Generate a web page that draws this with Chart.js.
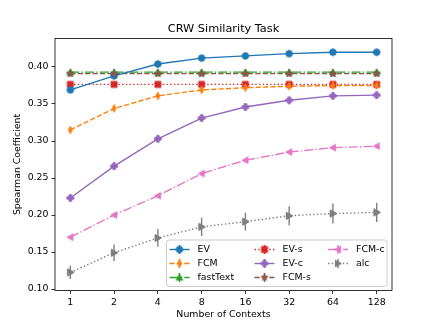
<!DOCTYPE html>
<html>
<head>
<meta charset="utf-8">
<script src="https://cdn.jsdelivr.net/npm/chart.js@4/dist/chart.umd.min.js"></script>
<style>
  html, body { margin: 0; padding: 0; background: #fff; }
  #wrap { width: 436px; height: 327px; }
</style>
</head>
<body>
<div id="wrap"><canvas id="chart" width="436" height="327"></canvas></div>
<script>
// x categories (evenly spaced) and y ticks
const contexts = ['1', '2', '4', '8', '16', '32', '64', '128'];
const yTicks = [0.10, 0.15, 0.20, 0.25, 0.30, 0.35, 0.40];

// series values
const evVals = [0.369, 0.388, 0.404, 0.412, 0.415, 0.418, 0.420, 0.420];
const fcmVals = [0.315, 0.344, 0.361, 0.369, 0.372, 0.374, 0.375, 0.375];
const fastTextVals = [0.393, 0.393, 0.393, 0.393, 0.393, 0.393, 0.393, 0.393];
const evSVals = [0.3765, 0.3765, 0.3765, 0.3765, 0.3765, 0.3765, 0.3765, 0.3765];
const evCVals = [0.223, 0.266, 0.303, 0.331, 0.346, 0.355, 0.361, 0.362];
const fcmSVals = [0.391, 0.391, 0.391, 0.391, 0.391, 0.391, 0.391, 0.391];
const fcmCVals = [0.170, 0.200, 0.226, 0.256, 0.274, 0.285, 0.291, 0.293];
const alcVals = [0.1225, 0.149, 0.169, 0.184, 0.191, 0.199, 0.202, 0.2035];

// error bar half-widths
const fcmSErr = [0.003, 0.003, 0.003, 0.003, 0.003, 0.003, 0.003, 0.003];
const alcErr = [0.009, 0.011, 0.012, 0.0125, 0.012, 0.013, 0.0135, 0.013];

const FONT = "'DejaVu Sans', sans-serif";

/**
 * Builds a small canvas with a matplotlib-like marker
 * @param {string} shape
 * @param {string} color
 * @returns {HTMLCanvasElement}
 */
function makeMarker(shape, color) {
  const s = 14, c = s / 2, m = 3.3;
  const cv = document.createElement('canvas');
  cv.width = s; cv.height = s;
  const g = cv.getContext('2d');
  g.fillStyle = color; g.strokeStyle = color; g.lineWidth = 1;
  g.beginPath();
  if (shape === 'o') {
    g.arc(c, c, m, 0, Math.PI * 2);
  } else if (shape === 's') {
    g.rect(c - m * 0.9, c - m * 0.9, m * 1.8, m * 1.8);
  } else if (shape === 'd') {
    g.moveTo(c, c - m * 1.15); g.lineTo(c + m * 0.6, c);
    g.lineTo(c, c + m * 1.15); g.lineTo(c - m * 0.6, c);
  } else if (shape === '^') {
    g.moveTo(c, c - m); g.lineTo(c + m, c + m * 0.8); g.lineTo(c - m, c + m * 0.8);
  } else if (shape === '<') {
    g.moveTo(c - m, c); g.lineTo(c + m * 0.8, c - m); g.lineTo(c + m * 0.8, c + m);
  } else if (shape === '>') {
    g.moveTo(c + m, c); g.lineTo(c - m * 0.8, c - m); g.lineTo(c - m * 0.8, c + m);
  } else if (shape === 'P') {
    const a = m * 0.38, b = m;
    g.moveTo(c - a, c - b); g.lineTo(c + a, c - b); g.lineTo(c + a, c - a);
    g.lineTo(c + b, c - a); g.lineTo(c + b, c + a); g.lineTo(c + a, c + a);
    g.lineTo(c + a, c + b); g.lineTo(c - a, c + b); g.lineTo(c - a, c + a);
    g.lineTo(c - b, c + a); g.lineTo(c - b, c - a); g.lineTo(c - a, c - a);
  } else if (shape === '*') {
    for (let i = 0; i < 10; i++) {
      const r = i % 2 === 0 ? m * 1.1 : m * 0.45;
      const ang = -Math.PI / 2 + i * Math.PI / 5;
      const px = c + r * Math.cos(ang), py = c + r * Math.sin(ang);
      if (i === 0) g.moveTo(px, py); else g.lineTo(px, py);
    }
  }
  g.closePath();
  g.fill(); g.stroke();
  return cv;
}

function pts(vals) {
  return vals.map((v, i) => ({ x: i, y: v }));
}

const LW = 1.4;
const series = [
  { label: 'EV', vals: evVals, color: '#1f77b4', dash: [], marker: 'o' },
  { label: 'FCM', vals: fcmVals, color: '#ff7f0e', dash: [5.2, 2.2], marker: 'd' },
  { label: 'fastText', vals: fastTextVals, color: '#2ca02c', dash: [9, 2.2, 1.4, 2.2], marker: '^' },
  { label: 'EV-s', vals: evSVals, color: '#d62728', dash: [1.4, 2.3], marker: 's' },
  { label: 'EV-c', vals: evCVals, color: '#9467bd', dash: [], marker: 'P' },
  { label: 'FCM-s', vals: fcmSVals, color: '#8c564b', dash: [5.2, 2.2], marker: '*', err: fcmSErr },
  { label: 'FCM-c', vals: fcmCVals, color: '#e377c2', dash: [9, 2.2, 1.4, 2.2], marker: '<' },
  { label: 'alc', vals: alcVals, color: '#7f7f7f', dash: [1.4, 2.3], marker: '>', err: alcErr },
];
series.forEach(s => { s.img = makeMarker(s.marker, s.color); });

// error bars, with the markers redrawn on top
const errorBars = {
  id: 'errorBars',
  afterDatasetsDraw(chart) {
    const { ctx, scales: { x, y } } = chart;
    ctx.save();
    series.forEach(s => {
      if (!s.err) return;
      ctx.strokeStyle = s.color;
      ctx.lineWidth = LW;
      s.vals.forEach((v, i) => {
        const px = x.getPixelForValue(i);
        ctx.beginPath();
        ctx.moveTo(px, y.getPixelForValue(v - s.err[i]));
        ctx.lineTo(px, y.getPixelForValue(v + s.err[i]));
        ctx.stroke();
      });
      s.vals.forEach((v, i) => {
        ctx.drawImage(s.img, x.getPixelForValue(i) - 7, y.getPixelForValue(v) - 7);
      });
    });
    ctx.restore();
  }
};

// axes box, title and the 3-column legend
const decorations = {
  id: 'decorations',
  afterDraw(chart) {
    const { ctx, chartArea: a } = chart;
    ctx.save();
    ctx.strokeStyle = '#000';
    ctx.lineWidth = 0.8;
    ctx.strokeRect(a.left, a.top, a.right - a.left, a.bottom - a.top);

    ctx.fillStyle = '#000';
    ctx.font = '11.3px ' + FONT;
    ctx.textAlign = 'center';
    ctx.textBaseline = 'middle';
    ctx.fillText('CRW Similarity Task', (a.left + a.right) / 2, 29);

    // legend frame
    const bx = 166.5, by = 240, bw = 220.5, bh = 46.5, r = 2.5;
    ctx.beginPath();
    ctx.moveTo(bx + r, by);
    ctx.arcTo(bx + bw, by, bx + bw, by + bh, r);
    ctx.arcTo(bx + bw, by + bh, bx, by + bh, r);
    ctx.arcTo(bx, by + bh, bx, by, r);
    ctx.arcTo(bx, by, bx + bw, by, r);
    ctx.closePath();
    ctx.fillStyle = 'rgba(255,255,255,0.8)';
    ctx.fill();
    ctx.strokeStyle = '#cccccc';
    ctx.lineWidth = 1;
    ctx.stroke();

    const colX = [169.5, 254.5, 328];
    const rowY = [249.5, 263.5, 277.5];
    ctx.font = '9.4px ' + FONT;
    ctx.textAlign = 'left';
    series.forEach((s, i) => {
      const lx = colX[Math.floor(i / 3)], ly = rowY[i % 3];
      ctx.strokeStyle = s.color;
      ctx.lineWidth = LW;
      ctx.setLineDash(s.dash);
      ctx.beginPath();
      ctx.moveTo(lx, ly); ctx.lineTo(lx + 20, ly);
      ctx.stroke();
      ctx.setLineDash([]);
      ctx.beginPath();
      ctx.moveTo(lx + 10, ly - 4.5); ctx.lineTo(lx + 10, ly + 4.5);
      ctx.stroke();
      ctx.drawImage(s.img, lx + 10 - 7, ly - 7);
      ctx.fillStyle = '#000';
      ctx.fillText(s.label, lx + 28, ly + 0.5);
    });
    ctx.restore();
  }
};

const ctx = document.getElementById('chart');
new Chart(ctx, {
  type: 'line',
  data: {
    datasets: series.map(s => ({
      label: s.label,
      data: pts(s.vals),
      borderColor: s.color,
      backgroundColor: s.color,
      borderWidth: LW,
      borderDash: s.dash,
      pointStyle: s.img,
      pointRadius: 4,
      pointHoverRadius: 4,
      fill: false,
      tension: 0,
    })),
  },
  options: {
    responsive: false,
    animation: false,
    events: [],
    layout: { padding: { left: 0, right: 44, top: 38.5, bottom: 0 } },
    plugins: {
      legend: { display: false },
      title: { display: false },
      tooltip: { enabled: false },
    },
    scales: {
      x: {
        type: 'linear',
        min: -0.35,
        max: 7.35,
        afterBuildTicks: (scale) => { scale.ticks = contexts.map((_, i) => ({ value: i })); },
        afterFit: (scale) => { scale.height = 36.5; },
        ticks: {
          callback: (v) => contexts[v],
          font: { family: FONT, size: 9.4 },
          color: '#000',
          padding: 3,
          maxRotation: 0,
        },
        grid: { drawOnChartArea: false, tickLength: 3.5, tickColor: '#000', tickWidth: 0.8 },
        border: { display: false },
        title: {
          display: true,
          text: 'Number of Contexts',
          font: { family: FONT, size: 9.4 },
          color: '#000',
          padding: { top: 0, bottom: 6.9 },
        },
      },
      y: {
        type: 'linear',
        min: 0.098,
        max: 0.4385,
        afterBuildTicks: (scale) => { scale.ticks = yTicks.map(v => ({ value: v })); },
        afterFit: (scale) => { scale.width = 55; },
        ticks: {
          callback: (v) => v.toFixed(2),
          font: { family: FONT, size: 9.4 },
          color: '#000',
          padding: 3,
        },
        grid: { drawOnChartArea: false, tickLength: 3.5, tickColor: '#000', tickWidth: 0.8 },
        border: { display: false },
        title: {
          display: true,
          text: 'Spearman Coefficient',
          font: { family: FONT, size: 9.4 },
          color: '#000',
          padding: { top: 12.4, bottom: 0 },
        },
      },
    },
  },
  plugins: [errorBars, decorations],
});
</script>
</body>
</html>
